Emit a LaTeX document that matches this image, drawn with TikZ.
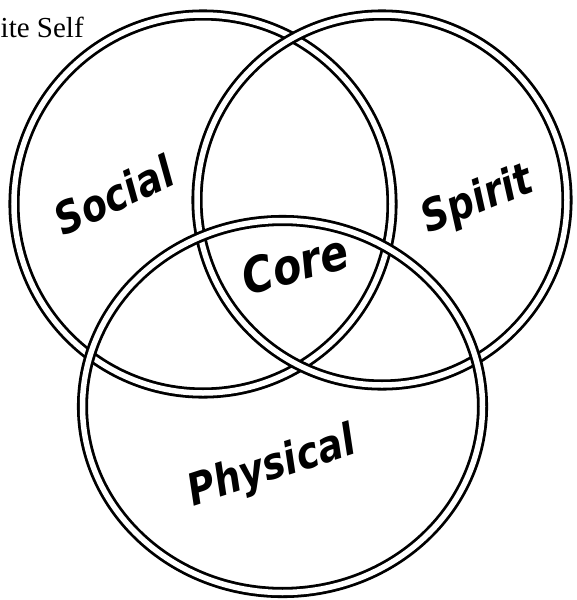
\documentclass[tikz,border=0pt]{standalone}
\usepackage{fontspec}
\setmainfont{Liberation Serif}
\newfontfamily\labfont[FakeStretch=0.85]{DejaVu Sans}
\begin{document}
\begin{tikzpicture}[x=1pt,y=-1pt,
  ring/.style={draw=black, line width=2.8pt, double=white, double distance=5.5pt},
  lab/.style={font=\labfont\bfseries\itshape\fontsize{44}{46}\selectfont, inner sep=0pt}]
\useasboundingbox[fill=white] (0,0) rectangle (577,600);
\draw[ring] (203,204) circle [radius=189pt];
\draw[ring] (382,200) circle [radius=185pt];
\draw[ring] (282.5,406.5) ellipse [x radius=200pt, y radius=186pt];
\node[anchor=base west, inner sep=0pt, font=\fontsize{29}{32}\selectfont] (title) at (0.5,37) {ite Self};
\node[lab, rotate=25] (social) at (114,195) {Social};
\node[lab, rotate=22] (spirit) at (478,201) {Spirit};
\node[lab, rotate=15, font=\labfont\bfseries\itshape\fontsize{49}{51}\selectfont] (core) at (295,264) {Core};
\node[lab, rotate=18] (physical) at (272,468) {Physical};
\end{tikzpicture}
\end{document}
